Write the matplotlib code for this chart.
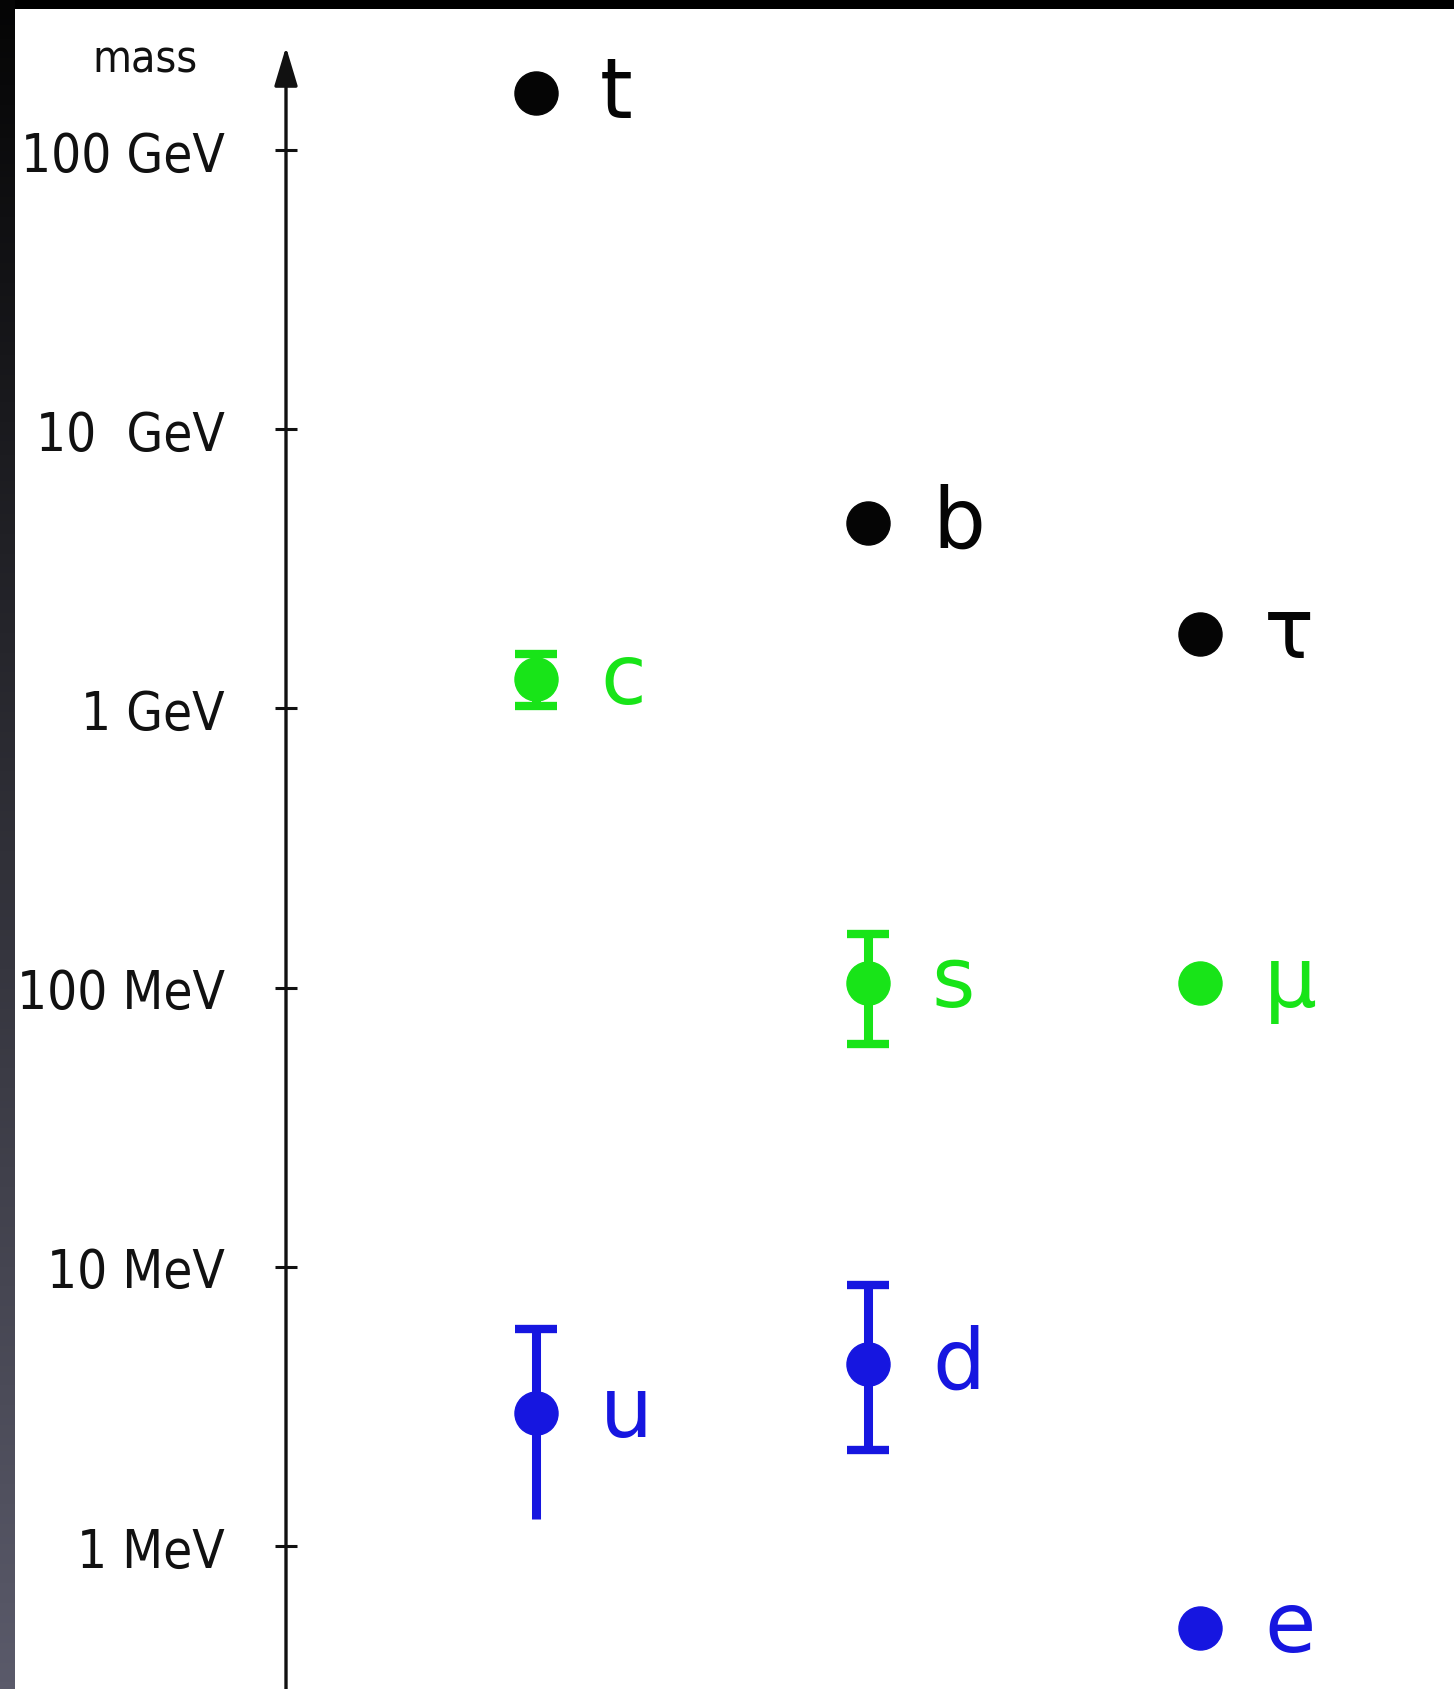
import numpy as np
import matplotlib
matplotlib.use('Agg')
import matplotlib.pyplot as plt
from matplotlib import transforms

"""
Step1: data read off the sketch (masses in MeV)
"""
particles = ['t', 'b', 'τ', 'c', 's', 'μ', 'u', 'd', 'e']
generation = [1, 2, 3, 1, 2, 3, 1, 2, 3]
mass = [160000, 4600, 1850, 1270, 104, 104, 3.0, 4.5, 0.51]
mass_lo = [None, None, None, 1020, 63, None, 1.25, 2.2, None]
mass_hi = [None, None, None, 1560, 155, None, 6.0, 8.6, None]
group = ['black', 'black', 'black', 'green', 'green', 'green', 'blue', 'blue', 'blue']

tick_values = [1, 10, 100, 1000, 10000, 100000]
tick_labels = ['1 MeV', '10 MeV', '100 MeV', '1 GeV', '10  GeV', '100 GeV']

colors = {'black': '#050505', 'green': '#18e418', 'blue': '#1616e0'}
no_low_cap = {'u'}

W, H = 1454, 1690
fig = plt.figure(figsize=(W / 100, H / 100), dpi=100)
fig.patch.set_facecolor('white')

ax = fig.add_axes([0, 0, 1, 1])
ax.set_facecolor('white')
ax.set_yscale('log')

# pixel layout: gen 1 at x=536, spacing 332 px; 1 MeV at y=1547, 279 px per decade
ax.set_xlim(1 - 536 / 332, 1 + (W - 536) / 332)
ax.set_ylim(10 ** (-(H - 1547) / 279.2), 10 ** (5 + 151 / 279.2))
axis_x = 1 - 250 / 332

for s in ['top', 'right', 'bottom']:
    ax.spines[s].set_visible(False)
ax.spines['left'].set_position(('data', axis_x))
ax.spines['left'].set_visible(False)
ax.set_xticks([])

ax.set_yticks(tick_values)
ax.set_yticklabels(tick_labels)
ax.yaxis.set_minor_locator(matplotlib.ticker.NullLocator())
ax.tick_params(axis='y', direction='inout', length=16, width=2.2, color='#111111',
               pad=36, labelsize=38, labelcolor='#111111')
for lab in ax.get_yticklabels():
    lab.set_family('DejaVu Sans')
    lab.set_stretch('condensed')

# vertical axis with arrow head
trans = transforms.blended_transform_factory(ax.transData, ax.transAxes)
ax.annotate('', xy=(axis_x, 1 - 48 / H), xytext=(axis_x, 0), xycoords=trans, textcoords=trans,
            arrowprops=dict(arrowstyle='-|>,head_length=0.6,head_width=0.18', color='#111111',
                            lw=2.4, mutation_scale=40, shrinkA=0, shrinkB=0))
ax.text(axis_x - 0.425, 1 - 60 / H, 'mass', transform=trans, ha='center', va='center',
        fontsize=32, color='#111111', family='DejaVu Sans', stretch='condensed')

"""
Step2: error bars and points
"""
for p, g, m, lo, hi, grp in zip(particles, generation, mass, mass_lo, mass_hi, group):
    c = colors[grp]
    if lo is not None:
        ax.vlines(g, lo, hi, color=c, lw=6.5, zorder=2)
        ax.plot([g], [hi], marker='_', ms=30, mew=6, color=c, zorder=2)
        if p not in no_low_cap:
            ax.plot([g], [lo], marker='_', ms=30, mew=6, color=c, zorder=2)
    ax.plot([g], [m], 'o', ms=31, color=c, zorder=3)
    ax.annotate(p, xy=(g, m), xytext=(46, 0), textcoords='offset points',
                ha='left', va='center', fontsize=60, color=c,
                family=['DejaVu Sans'])

"""
Step3: dark frame from the screenshot
"""
top = fig.add_axes([0, 1 - 10 / H, 1, 10 / H])
top.set_axis_off()
top.add_patch(plt.Rectangle((0, 0), 1, 1, color='black', transform=top.transAxes))

left = fig.add_axes([0, 0, 15 / W, 1])
left.set_axis_off()
grad = np.linspace(0, 1, 256).reshape(-1, 1)
left.imshow(grad, aspect='auto', cmap=matplotlib.colors.LinearSegmentedColormap.from_list(
    'frame', ['#5a5a6a', '#050505']), origin='lower', extent=[0, 1, 0, 1])

fig.savefig('out.png', dpi=100)
